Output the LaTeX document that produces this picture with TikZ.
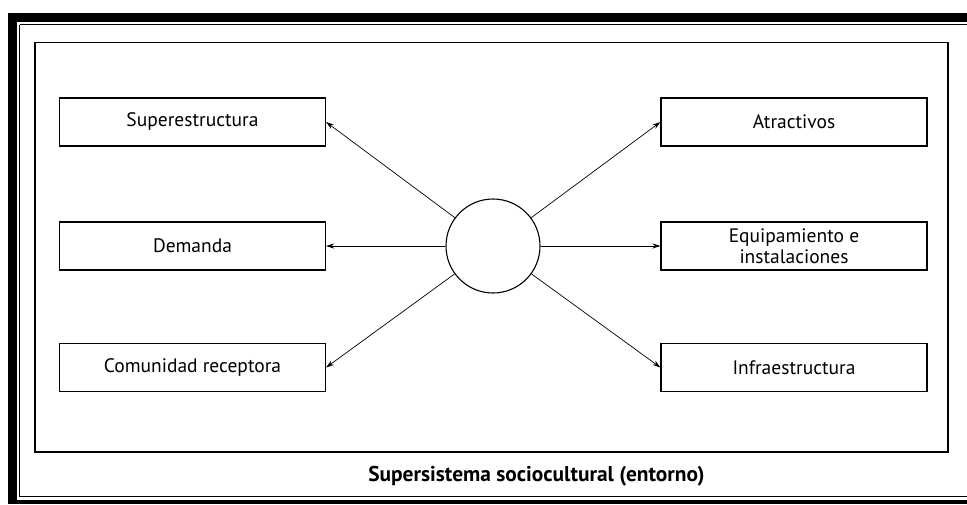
\documentclass[tikz,border=0pt]{standalone}
\usepackage{fontspec}
\setmainfont{PT Sans}
\usetikzlibrary{arrows.meta}
\begin{document}
\begin{tikzpicture}[x=1pt,y=-1pt,
  boxst/.style={draw, line width=1.1pt, minimum width=266pt, minimum height=48pt, inner sep=0pt, font=\fontsize{19.5}{21}\selectfont, align=center},
  conn/.style={line width=0.7pt, -{Stealth[length=8pt,width=5pt]}}]
\useasboundingbox (0,0) rectangle (967,504);
% outer frame
\fill[black] (8,13) rectangle (967,21.5);
\fill[black] (8,13) rectangle (17,504);
\fill[black] (8,499.5) rectangle (967,504);
\draw[line width=0.9pt] (19.5,24.5) -- (967,24.5);
\draw[line width=0.9pt] (19.5,24.5) -- (19.5,496.5) -- (967,496.5);
% inner frame
\draw[line width=1.1pt] (35,42.5) rectangle (948,452);
% boxes
\node[boxst] (sup) at (192.5,122) {Superestructura};
\node[boxst] (dem) at (192.5,246) {Demanda};
\node[boxst] (com) at (192.5,367.5) {Comunidad receptora};
\node[boxst] (atr) at (794,122) {Atractivos};
\node[boxst] (equ) at (794,246) {Equipamiento e\\instalaciones};
\node[boxst] (inf) at (794,367.5) {Infraestructura};
% centre circle
\node[draw, circle, line width=1.1pt, minimum size=94pt, inner sep=0pt] (c) at (493,246) {};
% connectors
\draw[conn] (c) -- (sup.east);
\draw[conn] (c.west) -- (dem.east);
\draw[conn] (c) -- (com.east);
\draw[conn] (c) -- (atr.west);
\draw[conn] (c.east) -- (equ.west);
\draw[conn] (c) -- (inf.west);
% caption
\node[font=\bfseries\fontsize{21.4}{25}\selectfont] (cap) at (536.5,476) {Supersistema sociocultural (entorno)};
\end{tikzpicture}
\end{document}
